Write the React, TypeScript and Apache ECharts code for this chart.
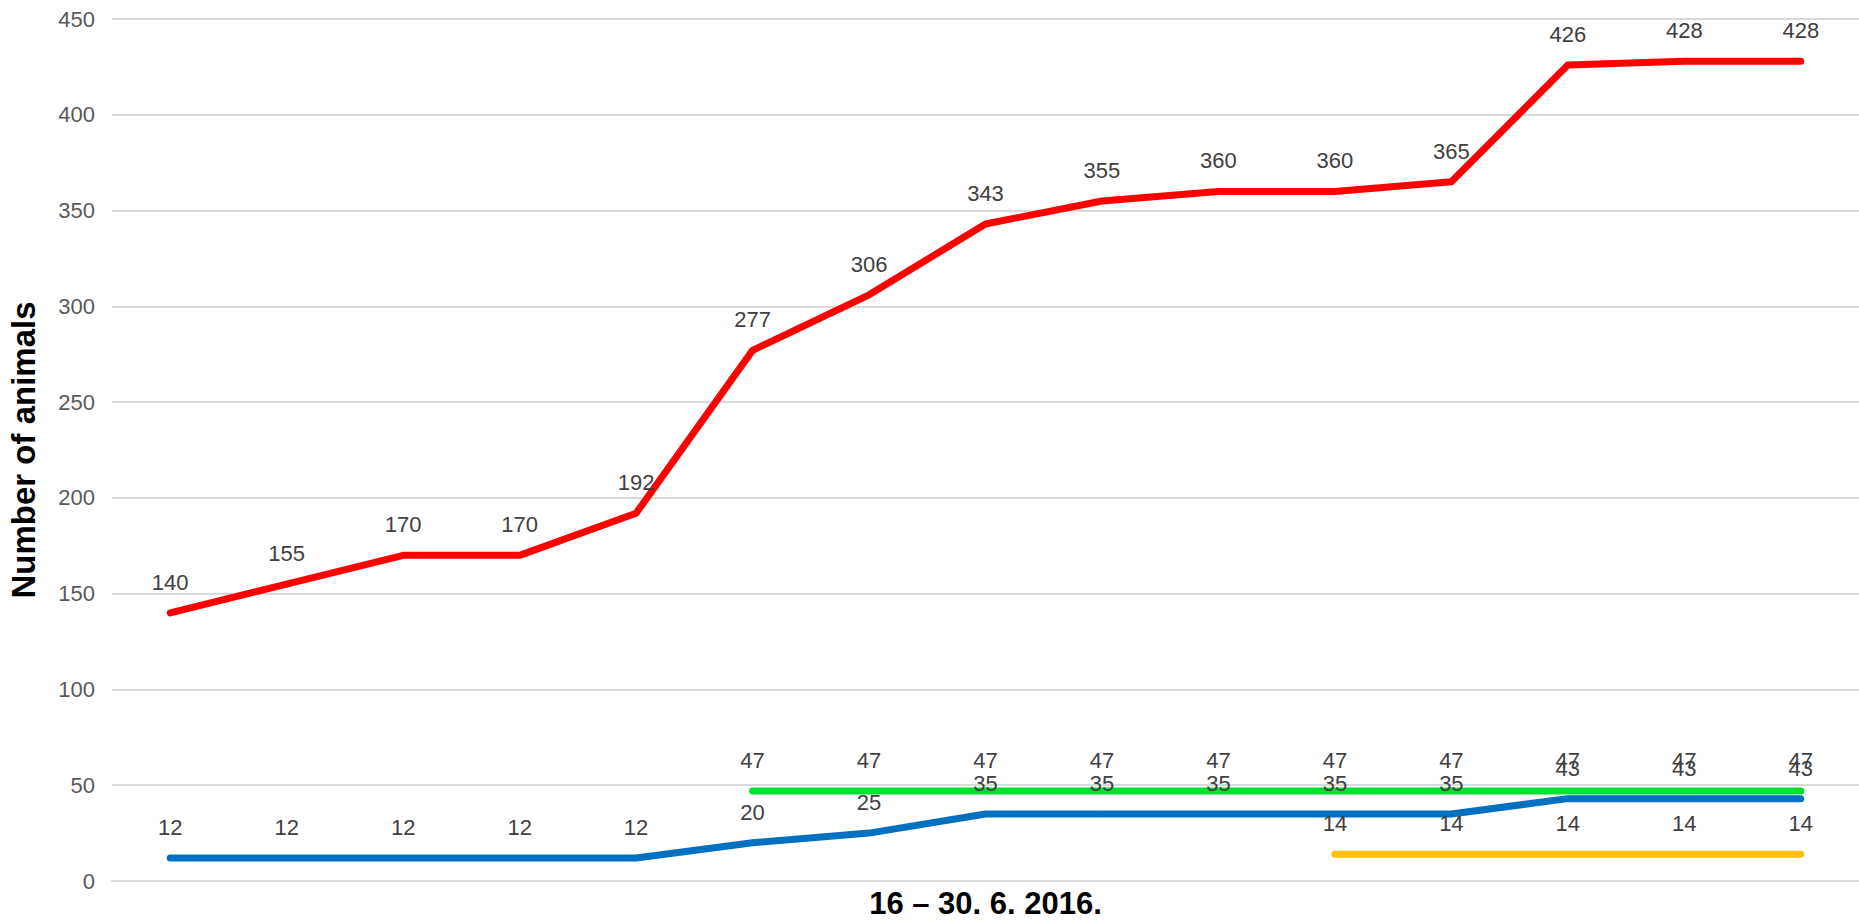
import React, { useEffect, useRef } from "react";
import * as echarts from "echarts";

const categories = ["16", "17", "18", "19", "20", "21", "22", "23", "24", "25", "26", "27", "28", "29", "30"];
const redValues = [140, 155, 170, 170, 192, 277, 306, 343, 355, 360, 360, 365, 426, 428, 428];
const blueValues = [12, 12, 12, 12, 12, 20, 25, 35, 35, 35, 35, 35, 43, 43, 43];
const greenValues = [null, null, null, null, null, 47, 47, 47, 47, 47, 47, 47, 47, 47, 47];
const yellowValues = [null, null, null, null, null, null, null, null, null, null, 14, 14, 14, 14, 14];
const yTicks = { min: 0, max: 450, interval: 50 };
const xTitle = "16 – 30. 6. 2016.";
const yTitle = "Number of animals";

const FONT = "'Liberation Sans', Arial, sans-serif";

function makeSeries(name: string, data: (number | null)[], color: string) {
  return {
    name,
    type: "line",
    data,
    symbol: "circle",
    symbolSize: 1,
    itemStyle: { color },
    lineStyle: { color, width: 7, cap: "round", join: "round" },
    label: {
      show: true,
      position: "top",
      distance: 19,
      color: "#404040",
      fontSize: 22,
      fontFamily: FONT,
    },
  };
}

export default function App() {
  const ref = useRef<HTMLDivElement>(null);
  useEffect(() => {
    if (!ref.current) return;
    const chart = echarts.init(ref.current, undefined, { renderer: "svg" });
    chart.setOption({
      animation: false,
      backgroundColor: "#ffffff",
      grid: { left: 112, right: 0, top: 19, bottom: 39, containLabel: false, outerBoundsMode: "none" },
      xAxis: {
        type: "category",
        data: categories,
        boundaryGap: true,
        axisLine: { show: true, lineStyle: { color: "#d9d9d9", width: 2 } },
        axisTick: { show: false },
        axisLabel: { show: false },
        name: xTitle,
        nameLocation: "middle",
        nameGap: 8,
        nameTextStyle: { fontSize: 31, lineHeight: 28, fontWeight: "bold", color: "#000000", fontFamily: FONT },
      },
      yAxis: {
        type: "value",
        min: yTicks.min,
        max: yTicks.max,
        interval: yTicks.interval,
        axisLine: { show: false },
        axisTick: { show: false },
        splitLine: { lineStyle: { color: "#d9d9d9", width: 2 } },
        axisLabel: { color: "#595959", fontSize: 22, fontFamily: FONT, margin: 17 },
        name: yTitle,
        nameLocation: "middle",
        nameGap: 72,
        nameRotate: 90,
        nameTextStyle: { fontSize: 33, fontWeight: "bold", color: "#000000", fontFamily: FONT },
      },
      series: [
        makeSeries("Total", redValues, "#ff0000"),
        makeSeries("Blue", blueValues, "#0070c0"),
        makeSeries("Green", greenValues, "#00e030"),
        makeSeries("Yellow", yellowValues, "#ffc000"),
      ],
    });
    return () => chart.dispose();
  }, []);
  return (
    <div
      ref={ref}
      style={{ position: "fixed", left: 0, top: 0, width: 1859, height: 920, background: "#fff" }}
    />
  );
}
